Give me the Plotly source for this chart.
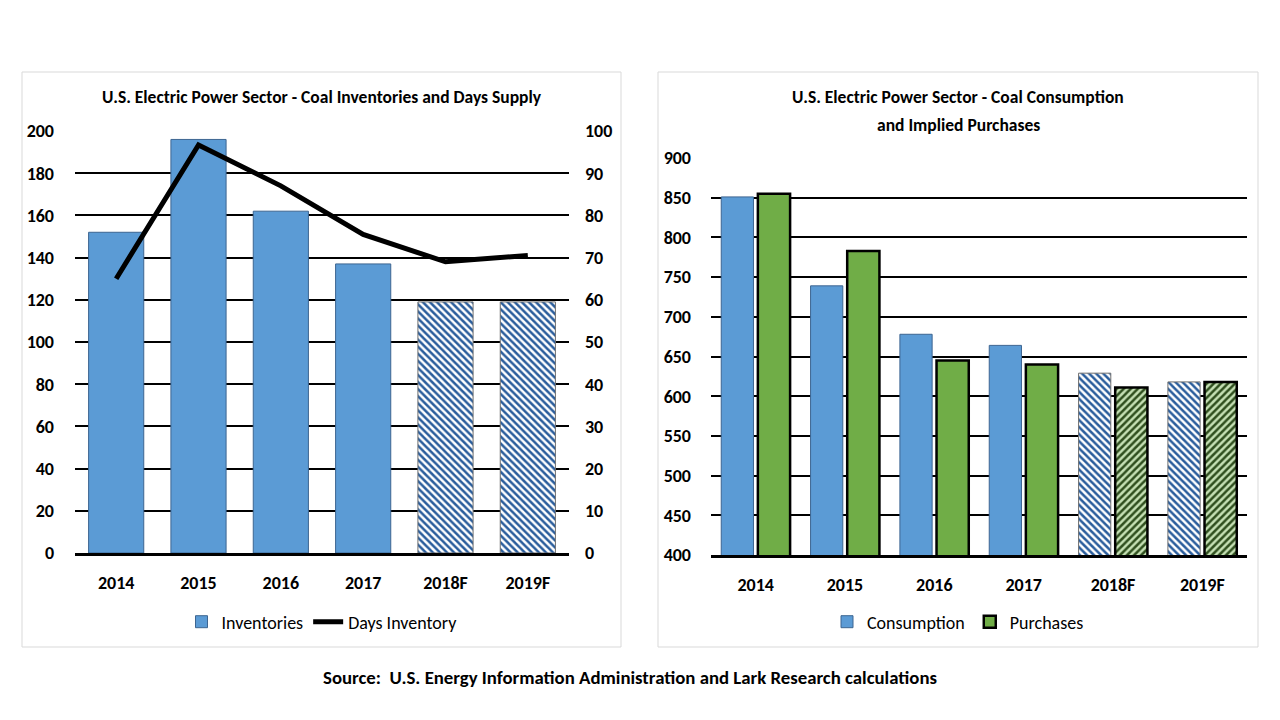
import plotly.graph_objects as go

years = ["2014", "2015", "2016", "2017", "2018F", "2019F"]
inventories = [152, 196, 162, 137, 119, 119]
days_inventory = [65, 96.7, 87, 75.5, 69, 70.5]
consumption = [851, 739, 678, 664, 629, 618]
purchases = [855, 783, 645, 640, 611, 618]
n_actual = 4  # 2018F and 2019F are forecasts

FONT = "Carlito, Liberation Sans Narrow, sans-serif"
BLUE = "#5B9BD5"
GREEN = "#70AD47"
LIGHTGREEN = "#C5E0B4"
DKGREEN = "#2F4F1E"
DKBLUE = "#2A5D9C"

W, H = 1280, 720
OFF = 8  # page offset of the plot in the browser


def px(xp):
    return (xp - OFF) / W


def py(yp):
    return 1 - (yp - OFF) / H


act = slice(0, n_actual)
fct = slice(n_actual, None)

fig = go.Figure()

# ---- left panel ----
fig.add_trace(go.Bar(
    x=years[act], y=inventories[act], name="Inventories", xaxis="x", yaxis="y",
    width=0.67, offsetgroup="inv", legend="legend", legendrank=1,
    marker=dict(color=BLUE, line=dict(color="#3D6591", width=1)),
))
fig.add_trace(go.Bar(
    x=years[fct], y=inventories[fct], name="Inventories", xaxis="x", yaxis="y",
    width=0.67, offsetgroup="inv", legend="legend", showlegend=False,
    marker=dict(color="white", line=dict(color="#6F6F6F", width=1),
                pattern=dict(shape="\\", fillmode="overlay", fgcolor=DKBLUE,
                             fgopacity=1, bgcolor="white", size=5, solidity=0.5)),
))
fig.add_trace(go.Scatter(
    x=years, y=days_inventory, name="Days Inventory", xaxis="x", yaxis="y2",
    mode="lines", line=dict(color="black", width=5), legend="legend", legendrank=2,
))

# ---- right panel ----
fig.add_trace(go.Bar(
    x=years[act], y=consumption[act], name="Consumption", xaxis="x3", yaxis="y3",
    legend="legend2", offsetgroup="c", legendrank=1,
    marker=dict(color=BLUE, line=dict(color="#3D6591", width=1)),
))
fig.add_trace(go.Bar(
    x=years[act], y=purchases[act], name="Purchases", xaxis="x3", yaxis="y3",
    legend="legend2", offsetgroup="p", legendrank=2,
    marker=dict(color=GREEN, line=dict(color="black", width=2.5)),
))
fig.add_trace(go.Bar(
    x=years[fct], y=consumption[fct], name="Consumption", xaxis="x3", yaxis="y3",
    legend="legend2", offsetgroup="c", showlegend=False,
    marker=dict(color="white", line=dict(color="#6F6F6F", width=1),
                pattern=dict(shape="\\", fillmode="overlay", fgcolor=DKBLUE,
                             fgopacity=1, bgcolor="white", size=5, solidity=0.5)),
))
fig.add_trace(go.Bar(
    x=years[fct], y=purchases[fct], name="Purchases", xaxis="x3", yaxis="y3",
    legend="legend2", offsetgroup="p", showlegend=False,
    marker=dict(color=LIGHTGREEN, line=dict(color="black", width=2.5),
                pattern=dict(shape="/", fillmode="overlay", fgcolor=DKGREEN,
                             fgopacity=1, bgcolor=LIGHTGREEN, size=5, solidity=0.5)),
))

tickfont = dict(family=FONT, size=18, color="black", weight="bold")
legfont = dict(family=FONT, size=18, color="black")

fig.update_layout(
    template="none",
    width=W, height=H,
    margin=dict(l=0, r=0, t=0, b=0, autoexpand=False),
    paper_bgcolor="white", plot_bgcolor="white",
    font=dict(family=FONT, color="black"),
    barmode="group", bargap=0.18, bargroupgap=0.12,
    xaxis=dict(domain=[px(75), px(569)], anchor="y", type="category",
               categoryorder="array", categoryarray=years,
               showgrid=False, showline=True, linecolor="black", linewidth=2.5,
               ticks="", tickfont=tickfont, ticklabelstandoff=12, automargin=False),
    yaxis=dict(domain=[py(553), py(131)], range=[0, 200], dtick=20,
               showgrid=True, gridcolor="black", gridwidth=1.5, zeroline=False,
               showline=False, ticks="", tickfont=tickfont, ticklabelstandoff=20,
               automargin=False),
    yaxis2=dict(overlaying="y", side="right", range=[0, 100], dtick=10,
                showgrid=False, zeroline=False, showline=False, ticks="",
                tickfont=tickfont, ticklabelstandoff=15, anchor="x", automargin=False),
    xaxis3=dict(domain=[px(711), px(1247)], anchor="y3", type="category",
                categoryorder="array", categoryarray=years,
                showgrid=False, showline=True, linecolor="black", linewidth=2.5,
                ticks="", tickfont=tickfont, ticklabelstandoff=12, automargin=False),
    yaxis3=dict(domain=[py(555), py(158)], range=[400, 900], dtick=50,
                anchor="x3", showgrid=True, gridcolor="black", gridwidth=1.5,
                zeroline=False, showline=False, ticks="", tickfont=tickfont,
                ticklabelstandoff=19, automargin=False),
    legend=dict(orientation="h", x=px(322), xanchor="center", y=py(622), yanchor="middle",
                font=legfont, bgcolor="rgba(0,0,0,0)", itemwidth=30, traceorder="normal"),
    legend2=dict(orientation="h", x=px(958), xanchor="center", y=py(622), yanchor="middle",
                 font=legfont, bgcolor="rgba(0,0,0,0)", itemwidth=30, traceorder="normal"),
    showlegend=True,
)

fig.add_shape(type="rect", xref="paper", yref="paper",
              x0=px(22), x1=px(621), y0=py(647), y1=py(72),
              line=dict(color="#D9D9D9", width=1), layer="below")
fig.add_shape(type="rect", xref="paper", yref="paper",
              x0=px(658), x1=px(1258), y0=py(647), y1=py(72),
              line=dict(color="#D9D9D9", width=1), layer="below")

titlefont = dict(family=FONT, size=17.5, color="black", weight="bold")
fig.add_annotation(text="U.S. Electric Power Sector - Coal Inventories and Days Supply",
                   xref="paper", yref="paper", x=px(322), y=py(97), showarrow=False,
                   xanchor="center", yanchor="middle", font=titlefont)
fig.add_annotation(text="U.S. Electric Power Sector - Coal Consumption",
                   xref="paper", yref="paper", x=px(958), y=py(97), showarrow=False,
                   xanchor="center", yanchor="middle", font=titlefont)
fig.add_annotation(text="and Implied Purchases",
                   xref="paper", yref="paper", x=px(958), y=py(125), showarrow=False,
                   xanchor="center", yanchor="middle", font=titlefont)
fig.add_annotation(text="Source:  U.S. Energy Information Administration and Lark Research calculations",
                   xref="paper", yref="paper", x=px(630), y=py(677), showarrow=False,
                   xanchor="center", yanchor="middle",
                   font=dict(family=FONT, size=18.8, color="black", weight="bold"))

fig.write_html("out.html")
